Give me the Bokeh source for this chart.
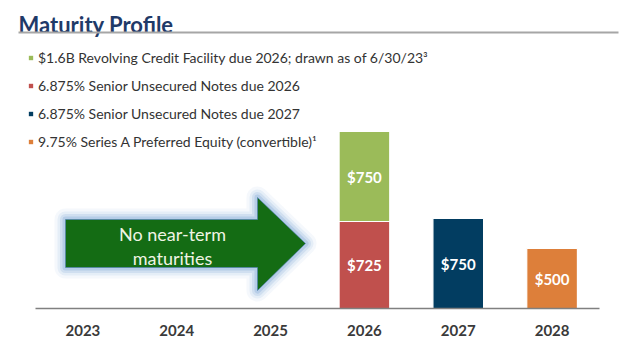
from bokeh.plotting import figure
from bokeh.models import (FactorRange, Range1d, Label, BoxAnnotation, PolyAnnotation,
                          Legend, LegendItem, ColumnDataSource)
from bokeh.core.properties import value
from bokeh.embed import file_html
from bokeh.resources import INLINE

# ---------------- data ----------------
years = ["2023", "2024", "2025", "2026", "2027", "2028"]
revolver = [0, 0, 0, 750, 0, 0]          # $1.6B Revolving Credit Facility (drawn)
notes_2026 = [0, 0, 0, 725, 0, 0]        # 6.875% Senior Unsecured Notes due 2026
notes_2027 = [0, 0, 0, 0, 750, 0]        # 6.875% Senior Unsecured Notes due 2027
preferred = [0, 0, 0, 0, 0, 500]         # 9.75% Series A Preferred Equity
series_labels = [
    "$1.6B Revolving Credit Facility due 2026; drawn as of 6/30/23\u00b3",
    "6.875% Senior Unsecured Notes due 2026",
    "6.875% Senior Unsecured Notes due 2027",
    "9.75% Series A Preferred Equity (convertible)\u00b9",
]
title_text = "Maturity Profile"
arrow_text = ["No near-term", "maturities"]

# ---------------- styles / layout ----------------
W, H = 640, 351
LEFT, RIGHT, BOTTOM = 14, 20, 43
FRAME_H = H - BOTTOM
FONT = "Lato"
C_GREEN, C_RED, C_NAVY, C_ORANGE = "#9bbb59", "#c0504d", "#023d61", "#dd7f3a"

def sx(x):  # canvas px -> frame screen x
    return x - LEFT

def sy(y):  # canvas px -> frame screen y (from bottom)
    return FRAME_H - y

p = figure(width=W, height=H,
           x_range=FactorRange(*years, range_padding=0.229, range_padding_units="absolute"),
           y_range=Range1d(0, FRAME_H / 0.12), output_backend="svg",
           toolbar_location=None, min_border_left=LEFT, min_border_right=RIGHT,
           min_border_top=0, min_border_bottom=BOTTOM, background_fill_color="white",
           border_fill_color="white")
p.outline_line_color = None
p.grid.visible = False
p.yaxis.visible = False
ax = p.xaxis[0]
ax.bounds = (0, len(years))
ax.axis_line_color = "#808080"
ax.axis_line_width = 1.6
ax.major_tick_line_color = None
ax.minor_tick_line_color = None
ax.major_label_text_font = FONT
ax.major_label_text_font_style = "bold"
ax.major_label_text_font_size = "15px"
ax.major_label_text_color = "#3a3a3a"
ax.major_label_standoff = 10

# ---------------- stacked bars ----------------
stack_order = [("n26", notes_2026, C_RED), ("rev", revolver, C_GREEN),
               ("n27", notes_2027, C_NAVY), ("pref", preferred, C_ORANGE)]
base = {y: 0 for y in years}
renderers = {}
lab_x, lab_y, lab_t = [], [], []
for key, vals, color in stack_order:
    xs, bot, top = [], [], []
    for y, v in zip(years, vals):
        if v:
            xs.append(y)
            bot.append(base[y])
            top.append(base[y] + v)
            lab_x.append(y)
            lab_y.append(base[y] + v / 2)
            lab_t.append("$%d" % v)
            base[y] += v
    src = ColumnDataSource(dict(x=xs, bottom=bot, top=top))
    renderers[key] = p.vbar(x="x", bottom="bottom", top="top", width=0.54, source=src,
                            fill_color=color, line_color="white", line_width=1.2)

p.text(x=lab_x, y=lab_y, text=lab_t, text_font=value(FONT), text_font_style="bold",
       text_font_size="15px", text_color="white", text_align="center",
       text_baseline="middle")

# ---------------- legend ----------------
legend = Legend(items=[
    LegendItem(label=series_labels[0], renderers=[renderers["rev"]]),
    LegendItem(label=series_labels[1], renderers=[renderers["n26"]]),
    LegendItem(label=series_labels[2], renderers=[renderers["n27"]]),
    LegendItem(label=series_labels[3], renderers=[renderers["pref"]]),
], location=(sx(27), sy(151)), orientation="vertical", padding=0, margin=0,
    spacing=8, label_height=20, glyph_height=7, glyph_width=7, label_standoff=4,
    label_text_font=FONT, label_text_font_size="14px", label_text_color="#333333",
    background_fill_alpha=0, border_line_color=None)
p.add_layout(legend, "center")

# ---------------- title + rule ----------------
p.add_layout(Label(x=sx(18), y=sy(24), x_units="screen", y_units="screen", text=title_text,
                   text_font=FONT, text_font_style="bold", text_font_size="22px",
                   text_color="#1f3a68", text_baseline="alphabetic"))
p.add_layout(BoxAnnotation(left=sx(18), right=sx(618), top=sy(31), bottom=sy(33),
                           left_units="screen", right_units="screen", top_units="screen",
                           bottom_units="screen", fill_color="#a6a6a6", fill_alpha=1,
                           line_color=None))

# ---------------- arrow ----------------
arrow_px = [(65, 219), (257, 219), (257, 197), (305, 243), (257, 290), (257, 267), (65, 267)]
axs = [sx(a) for a, b in arrow_px]
ays = [sy(b) for a, b in arrow_px]
for lw, alpha in [(22, 0.08), (16, 0.13), (11, 0.2), (6, 0.32)]:
    p.add_layout(PolyAnnotation(xs=axs, ys=ays, xs_units="screen", ys_units="screen",
                                fill_alpha=0, line_color="#7fa7d8", line_alpha=alpha,
                                line_width=lw, line_join="round"))
p.add_layout(PolyAnnotation(xs=axs, ys=ays, xs_units="screen", ys_units="screen",
                            fill_color="#146c14", fill_alpha=1, line_color="#4f7fb8",
                            line_alpha=0.6, line_width=1))
for i, t in enumerate(arrow_text):
    p.add_layout(Label(x=sx(172), y=sy(233 + 24 * i), x_units="screen", y_units="screen",
                       text=t, text_font=FONT, text_font_size="18px", text_color="#f0f4e4",
                       text_align="center", text_baseline="middle"))

open("out.html", "w").write(file_html(p, INLINE))
